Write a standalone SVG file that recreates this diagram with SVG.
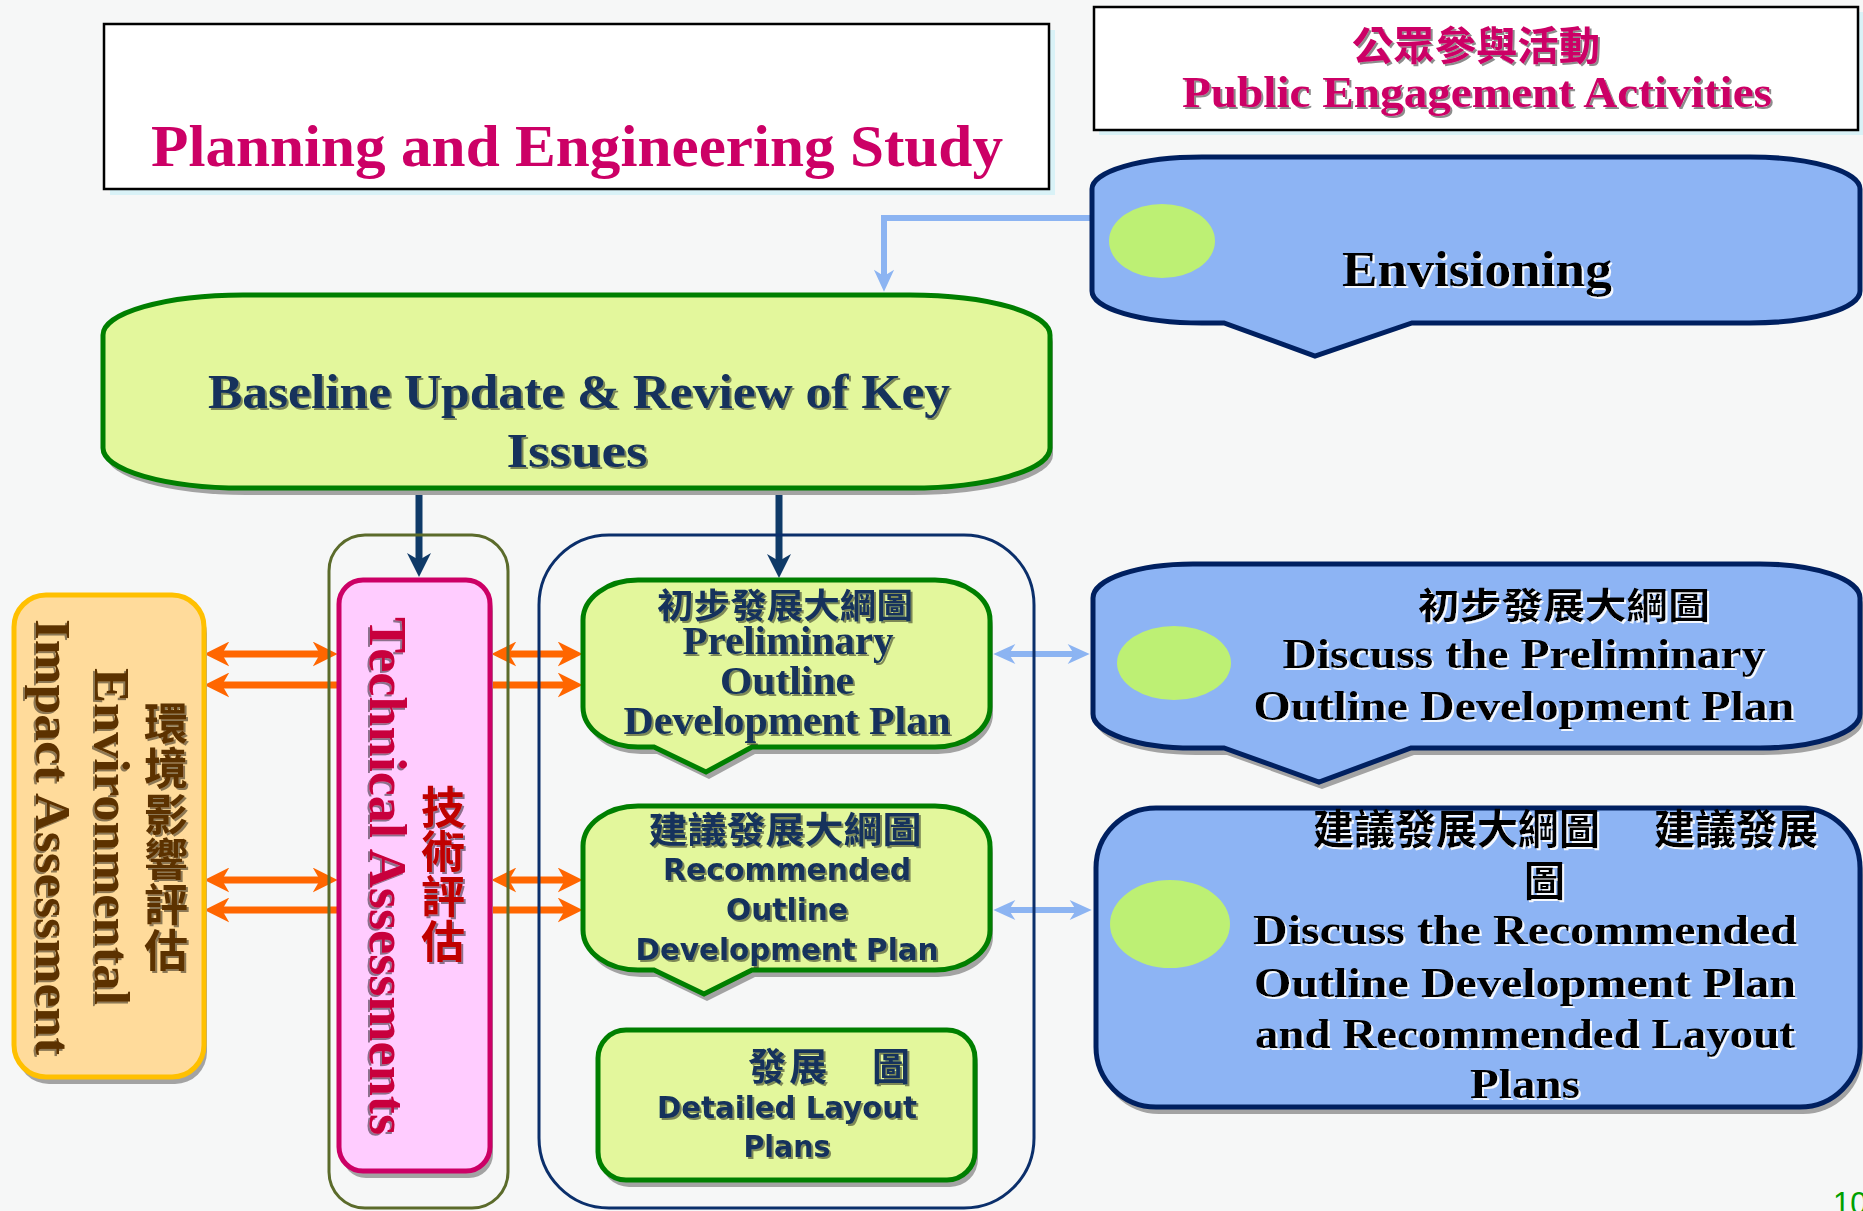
<svg xmlns="http://www.w3.org/2000/svg" width="1863" height="1211" viewBox="0 0 1863 1211">
<defs>
<style>
.bg{fill:#f6f7f7}
.serif{font-family:"Liberation Serif","Times New Roman",serif;font-weight:bold}
.sans{font-family:"DejaVu Sans",Verdana,sans-serif;font-weight:bold}
.cjk{font-family:"Noto Sans CJK TC","Noto Sans CJK SC",sans-serif;font-weight:bold}
.vert{writing-mode:vertical-rl;text-orientation:upright}
.mid{text-anchor:middle}
.navytxt{fill:#12305c}
.pink{fill:#cc0066}
.green{fill:#e3f79c;stroke:#007f00;stroke-width:5}
.blue{fill:#8db4f4;stroke:#002060;stroke-width:5}
.dot{fill:#bdf074}
.shadow{fill:#a3a3a3}
.orange{stroke:#ff6600;stroke-width:7;fill:none}
.navyln{stroke:#0f3a68;stroke-width:7;fill:none}
.blueln{stroke:#8cb4f2;stroke-width:6;fill:none}
</style>
<marker id="mO" viewBox="0 0 24 24" refX="8" refY="12" markerWidth="25" markerHeight="25" markerUnits="userSpaceOnUse" orient="auto-start-reverse"><path d="M0,0 L24,12 L0,24 L7,12 Z" fill="#ff6600"/></marker>
<marker id="mN" viewBox="0 0 24 24" refX="8" refY="12" markerWidth="24" markerHeight="24" markerUnits="userSpaceOnUse" orient="auto-start-reverse"><path d="M0,0 L24,12 L0,24 L7,12 Z" fill="#0f3a68"/></marker>
<marker id="mB" viewBox="0 0 24 24" refX="8" refY="12" markerWidth="24" markerHeight="22" markerUnits="userSpaceOnUse" orient="auto-start-reverse"><path d="M0,1 L24,12 L0,23 L7,12 Z" fill="#8cb4f2"/></marker>
<filter id="shD" x="-5%" y="-20%" width="110%" height="140%"><feDropShadow dx="2" dy="2" stdDeviation="0.4" flood-color="#000" flood-opacity="0.45"/></filter>
<filter id="shL" x="-5%" y="-20%" width="110%" height="140%"><feDropShadow dx="2" dy="2" stdDeviation="0.4" flood-color="#ffffff" flood-opacity="0.9"/></filter>
</defs>
<rect class="bg" x="0" y="0" width="1863" height="1211"/>

<g id="title-planning">
<rect x="110" y="30" width="945" height="165" fill="#d9f2f7"/>
<rect x="104" y="24" width="945" height="165" fill="#fff" stroke="#000" stroke-width="2.5"/>
<text class="serif mid pink" x="577" y="166" font-size="59" textLength="852" lengthAdjust="spacingAndGlyphs">Planning and Engineering Study</text>
</g>

<g id="title-public">
<rect x="1099" y="12" width="764" height="123" fill="#d9f2f7"/>
<rect x="1094" y="7" width="764" height="123" fill="#fff" stroke="#000" stroke-width="2.5"/>
<text class="cjk mid pink" x="1476" y="60" font-size="40" textLength="248" lengthAdjust="spacingAndGlyphs" filter="url(#shD)">公眾參與活動</text>
<text class="serif mid pink" x="1477" y="107" font-size="44" textLength="590" lengthAdjust="spacingAndGlyphs" filter="url(#shD)">Public Engagement Activities</text>
</g>

<g id="connectors">
<path class="blueln" d="M1093,218 H884 V277" marker-end="url(#mB)"/>
<path class="navyln" d="M419,489 V561" marker-end="url(#mN)"/>
<path class="navyln" d="M779,489 V562" marker-end="url(#mN)"/>
<path class="orange" d="M221,654 H321" marker-start="url(#mO)" marker-end="url(#mO)"/>
<path class="orange" d="M338,685 H221" marker-end="url(#mO)"/>
<path class="orange" d="M221,880 H321" marker-start="url(#mO)" marker-end="url(#mO)"/>
<path class="orange" d="M338,910 H221" marker-end="url(#mO)"/>
<path class="orange" d="M508,654 H566" marker-start="url(#mO)" marker-end="url(#mO)"/>
<path class="orange" d="M491,685 H566" marker-end="url(#mO)"/>
<path class="orange" d="M508,880 H566" marker-start="url(#mO)" marker-end="url(#mO)"/>
<path class="orange" d="M491,910 H566" marker-end="url(#mO)"/>
<path class="blueln" d="M1008,654 H1075" marker-start="url(#mB)" marker-end="url(#mB)"/>
<path class="blueln" d="M1008,910 H1077" marker-start="url(#mB)" marker-end="url(#mB)"/>
</g>

<g id="envisioning">
<path class="blue" d="M1202,157 H1750 A110,32 0 0 1 1860,189 V291 A110,32 0 0 1 1750,323 H1412 L1315,356 L1224,323 H1202 A110,32 0 0 1 1092,291 V189 A110,32 0 0 1 1202,157 Z"/>
<ellipse class="dot" cx="1162" cy="241" rx="53" ry="37"/>
<text class="serif mid" x="1477" y="286" font-size="50" textLength="270" lengthAdjust="spacingAndGlyphs" fill="#000" filter="url(#shL)">Envisioning</text>
</g>

<g id="baseline">
<path class="shadow" transform="translate(3,7)" d="M243,295 H910 A140,40 0 0 1 1050,335 V448 A140,40 0 0 1 910,488 H243 A140,40 0 0 1 103,448 V335 A140,40 0 0 1 243,295 Z"/>
<path class="green" d="M243,295 H910 A140,40 0 0 1 1050,335 V448 A140,40 0 0 1 910,488 H243 A140,40 0 0 1 103,448 V335 A140,40 0 0 1 243,295 Z"/>
<text class="serif mid navytxt" x="579" y="408" font-size="48" textLength="742" lengthAdjust="spacingAndGlyphs" filter="url(#shD)">Baseline Update &amp; Review of Key</text>
<text class="serif mid navytxt" x="577" y="467" font-size="48" textLength="141" lengthAdjust="spacingAndGlyphs" filter="url(#shD)">Issues</text>
</g>

<g id="eia">
<rect class="shadow" x="17" y="602" width="190" height="482" rx="32"/>
<rect x="14" y="595" width="190" height="482" rx="32" fill="#ffdb9b" stroke="#ffc000" stroke-width="5"/>
<text class="serif" transform="translate(36,619) rotate(90)" font-size="51" textLength="436" lengthAdjust="spacingAndGlyphs" fill="#5c3300" filter="url(#shD)">Impact Assessment</text>
<text class="serif" transform="translate(95,668) rotate(90)" font-size="51" textLength="337" lengthAdjust="spacingAndGlyphs" fill="#5c3300" filter="url(#shD)">Environmental</text>
<text class="cjk vert" x="166" y="701" font-size="44" textLength="271" lengthAdjust="spacing" fill="#5c3300" filter="url(#shD)">環境影響評估</text>
</g>

<g id="technical-group">
<rect x="329" y="535" width="179" height="673" rx="36" fill="none" stroke="#5b6b2b" stroke-width="3"/>
</g>

<g id="technical">
<rect class="shadow" x="342" y="587" width="151" height="591" rx="24"/>
<rect x="339" y="580" width="151" height="591" rx="24" fill="#ffccff" stroke="#cc0066" stroke-width="5"/>
<text class="serif" transform="translate(370,617) rotate(90)" font-size="53" textLength="518" lengthAdjust="spacingAndGlyphs" fill="#c8003c" filter="url(#shD)">Technical Assessments</text>
<text class="cjk vert" x="443" y="785" font-size="44" textLength="178" lengthAdjust="spacing" fill="#c00000" filter="url(#shD)">技術評估</text>
</g>

<g id="plans-group">
<rect x="539" y="535" width="495" height="673" rx="70" fill="none" stroke="#0b2f6b" stroke-width="3"/>
</g>

<g id="preliminary">
<path class="shadow" transform="translate(3,7)" d="M638,580 H935 A55,40 0 0 1 990,620 V707 A55,40 0 0 1 935,747 H752 L706,772 L654,747 H638 A55,40 0 0 1 583,707 V620 A55,40 0 0 1 638,580 Z"/>
<path class="green" d="M638,580 H935 A55,40 0 0 1 990,620 V707 A55,40 0 0 1 935,747 H752 L706,772 L654,747 H638 A55,40 0 0 1 583,707 V620 A55,40 0 0 1 638,580 Z"/>
<text class="cjk mid navytxt" x="785" y="618" font-size="34" textLength="256" lengthAdjust="spacingAndGlyphs" filter="url(#shD)">初步發展大綱圖</text>
<text class="serif mid navytxt" x="788" y="654" font-size="39" textLength="211" lengthAdjust="spacingAndGlyphs" filter="url(#shD)">Preliminary</text>
<text class="serif mid navytxt" x="787" y="694" font-size="39" textLength="134" lengthAdjust="spacingAndGlyphs" filter="url(#shD)">Outline</text>
<text class="serif mid navytxt" x="787" y="734" font-size="39" textLength="327" lengthAdjust="spacingAndGlyphs" filter="url(#shD)">Development Plan</text>
</g>

<g id="recommended">
<path class="shadow" transform="translate(3,7)" d="M638,806 H935 A55,40 0 0 1 990,846 V930 A55,40 0 0 1 935,970 H752 L704,994 L654,970 H638 A55,40 0 0 1 583,930 V846 A55,40 0 0 1 638,806 Z"/>
<path class="green" d="M638,806 H935 A55,40 0 0 1 990,846 V930 A55,40 0 0 1 935,970 H752 L704,994 L654,970 H638 A55,40 0 0 1 583,930 V846 A55,40 0 0 1 638,806 Z"/>
<text class="cjk mid navytxt" x="785" y="843" font-size="36" textLength="273" lengthAdjust="spacingAndGlyphs" filter="url(#shD)">建議發展大綱圖</text>
<text class="sans mid navytxt" x="787" y="880" font-size="31" textLength="248" lengthAdjust="spacingAndGlyphs" filter="url(#shD)">Recommended</text>
<text class="sans mid navytxt" x="787" y="920" font-size="31" textLength="122" lengthAdjust="spacingAndGlyphs" filter="url(#shD)">Outline</text>
<text class="sans mid navytxt" x="787" y="960" font-size="31" textLength="303" lengthAdjust="spacingAndGlyphs" filter="url(#shD)">Development Plan</text>
</g>

<g id="detailed">
<rect class="shadow" x="601" y="1037" width="377" height="150" rx="28"/>
<rect class="green" x="598" y="1030" width="377" height="150" rx="28"/>
<text class="cjk navytxt" x="748" y="1080" font-size="38" textLength="162" lengthAdjust="spacing" filter="url(#shD)">發展　圖</text>
<text class="sans mid navytxt" x="787" y="1118" font-size="31" textLength="260" lengthAdjust="spacingAndGlyphs" filter="url(#shD)">Detailed Layout</text>
<text class="sans mid navytxt" x="787" y="1157" font-size="31" textLength="87" lengthAdjust="spacingAndGlyphs" filter="url(#shD)">Plans</text>
</g>

<g id="discuss-preliminary">
<path class="shadow" transform="translate(3,7)" d="M1193,564 H1760 A100,34 0 0 1 1860,598 V714 A100,34 0 0 1 1760,748 H1411 L1319,782 L1224,748 H1193 A100,34 0 0 1 1093,714 V598 A100,34 0 0 1 1193,564 Z"/>
<path class="blue" d="M1193,564 H1760 A100,34 0 0 1 1860,598 V714 A100,34 0 0 1 1760,748 H1411 L1319,782 L1224,748 H1193 A100,34 0 0 1 1093,714 V598 A100,34 0 0 1 1193,564 Z"/>
<ellipse class="dot" cx="1174" cy="663" rx="57" ry="37"/>
<text class="cjk mid" x="1564" y="619" font-size="36" textLength="292" lengthAdjust="spacingAndGlyphs" fill="#000" filter="url(#shL)">初步發展大綱圖</text>
<text class="serif mid" x="1524" y="668" font-size="42" textLength="483" lengthAdjust="spacingAndGlyphs" fill="#000" filter="url(#shL)">Discuss the Preliminary</text>
<text class="serif mid" x="1524" y="720" font-size="42" textLength="541" lengthAdjust="spacingAndGlyphs" fill="#000" filter="url(#shL)">Outline Development Plan</text>
</g>

<g id="discuss-recommended">
<rect class="shadow" x="1099" y="815" width="764" height="299" rx="60"/>
<rect class="blue" x="1096" y="808" width="764" height="299" rx="60"/>
<ellipse class="dot" cx="1170" cy="924" rx="60" ry="44"/>
<text class="cjk" font-size="41" fill="#000" filter="url(#shL)"><tspan x="1313" y="844">建議發展大綱圖　</tspan><tspan x="1654" y="844">建議發展</tspan><tspan x="1524" y="896">圖</tspan></text>
<text class="serif mid" x="1525" y="944" font-size="42" textLength="544" lengthAdjust="spacingAndGlyphs" fill="#000" filter="url(#shL)">Discuss the Recommended</text>
<text class="serif mid" x="1525" y="997" font-size="42" textLength="542" lengthAdjust="spacingAndGlyphs" fill="#000" filter="url(#shL)">Outline Development Plan</text>
<text class="serif mid" x="1525" y="1048" font-size="42" textLength="540" lengthAdjust="spacingAndGlyphs" fill="#000" filter="url(#shL)">and Recommended Layout</text>
<text class="serif mid" x="1525" y="1098" font-size="42" textLength="110" lengthAdjust="spacingAndGlyphs" fill="#000" filter="url(#shL)">Plans</text>
</g>

<g id="page-number">
<text x="1833" y="1214" font-family="Liberation Sans, Arial, sans-serif" font-size="31" fill="#00a000">10</text>
</g>
</svg>
